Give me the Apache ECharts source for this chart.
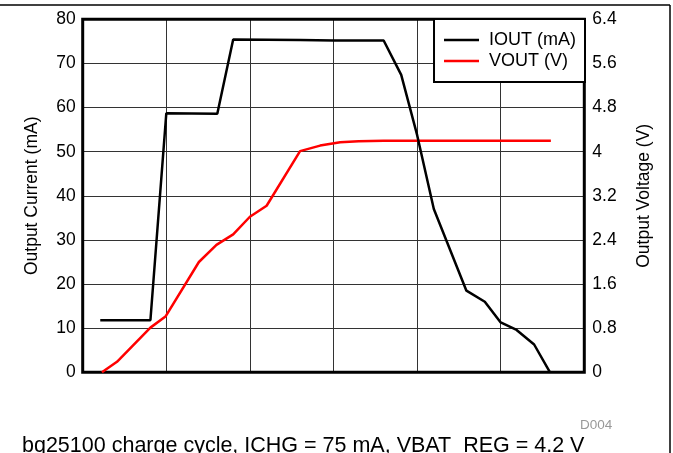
<!DOCTYPE html>
<html><head><meta charset="utf-8">
<script src="https://cdn.jsdelivr.net/npm/echarts@6/dist/echarts.min.js"></script>
<style>html,body{margin:0;padding:0;background:#fff}#c{width:673px;height:453px}</style>
</head><body><div id="c"></div>
<script>
// time (grid divisions) vs output current (mA)
const ioutX = [0.21, 0.81, 1.00, 1.61, 1.80, 2.60, 3.00, 3.60, 3.81, 4.00, 4.20, 4.59, 4.81, 5.00, 5.19, 5.40, 5.59];
const ioutY = [11.8, 11.8, 58.7, 58.6, 75.4, 75.3, 75.2, 75.2, 67.4, 53.8, 37.0, 18.5, 16.0, 11.3, 9.6, 6.3, 0];
// time vs output voltage (V)
const voutX = [0.23, 0.41, 0.81, 0.99, 1.39, 1.60, 1.80, 2.00, 2.20, 2.60, 2.84, 3.08, 3.30, 3.60, 4.00, 5.60];
const voutY = [0, 0.19, 0.81, 1.01, 2.00, 2.31, 2.50, 2.82, 3.02, 4.01, 4.11, 4.17, 4.19, 4.20, 4.20, 4.20];
const leftTicks = {min: 0, max: 80, interval: 10};
const rightTicks = {min: 0, max: 6.4, interval: 0.8};
const names = ['IOUT (mA)', 'VOUT (V)'];

const F = '"Liberation Sans", Arial, sans-serif';
const chart = echarts.init(document.getElementById('c'), null, {renderer: 'canvas'});
chart.setOption({
  animation: false,
  textStyle: {fontFamily: F},
  grid: {left: 82.7, right: 88.7, top: 19.3, bottom: 80.7, show: true, borderColor: '#000', borderWidth: 3, backgroundColor: 'transparent', z: 3},
  legend: {
    data: names, orient: 'vertical', right: 88, top: 19, icon: 'rect',
    backgroundColor: '#fff', borderColor: '#000', borderWidth: 2,
    padding: [12, 9, 12, 10], itemGap: 3, itemWidth: 35, itemHeight: 2.5,
    textStyle: {fontSize: 18, color: '#000', fontFamily: F, lineHeight: 18, padding: [0, 0, 0, 5]},
    z: 10
  },
  xAxis: {type: 'value', min: 0, max: 6, interval: 1,
    axisLine: {show: false}, axisTick: {show: false}, axisLabel: {show: false},
    splitLine: {show: true, lineStyle: {color: '#333', width: 1}}},
  yAxis: [
    {type: 'value', min: leftTicks.min, max: leftTicks.max, interval: leftTicks.interval, position: 'left',
      name: 'Output Current (mA)', nameLocation: 'middle', nameGap: 42, nameRotate: 90,
      nameTextStyle: {fontSize: 17.5, color: '#000', fontFamily: F},
      axisLine: {show: false}, axisTick: {show: false},
      axisLabel: {fontSize: 17.5, color: '#000', margin: 7, fontFamily: F},
      splitLine: {show: true, lineStyle: {color: '#333', width: 1}}},
    {type: 'value', min: rightTicks.min, max: rightTicks.max, interval: rightTicks.interval, position: 'right',
      name: 'Output Voltage (V)', nameLocation: 'middle', nameGap: 51, nameRotate: 90,
      nameTextStyle: {fontSize: 17.5, color: '#000', fontFamily: F},
      axisLine: {show: false}, axisTick: {show: false},
      axisLabel: {fontSize: 17.5, color: '#000', margin: 8, fontFamily: F,
        formatter: v => String(Math.round(v * 10) / 10)},
      splitLine: {show: false}}
  ],
  series: [
    {name: names[0], type: 'line', yAxisIndex: 0, symbol: 'none', z: 5,
      lineStyle: {color: '#000', width: 2.5}, itemStyle: {color: '#000'},
      data: ioutX.map((x, i) => [x, ioutY[i]])},
    {name: names[1], type: 'line', yAxisIndex: 1, symbol: 'none', z: 4,
      lineStyle: {color: '#ff0000', width: 2.5}, itemStyle: {color: '#ff0000'},
      data: voutX.map((x, i) => [x, voutY[i]])}
  ],
  graphic: [
    {type: 'line', shape: {x1: 0, y1: 5, x2: 670, y2: 5}, style: {stroke: '#000', lineWidth: 1.5}},
    {type: 'line', shape: {x1: 670, y1: 5, x2: 670, y2: 453}, style: {stroke: '#000', lineWidth: 1.5}},
    {type: 'text', left: 580, top: 418, style: {text: 'D004', fill: '#999', font: '13.5px ' + F}},
    {type: 'text', left: 22, top: 435, style: {text: 'bq25100 charge cycle, ICHG = 75 mA, VBAT_REG = 4.2 V', fill: '#000', font: '21.5px ' + F}}
  ]
});
</script></body></html>
